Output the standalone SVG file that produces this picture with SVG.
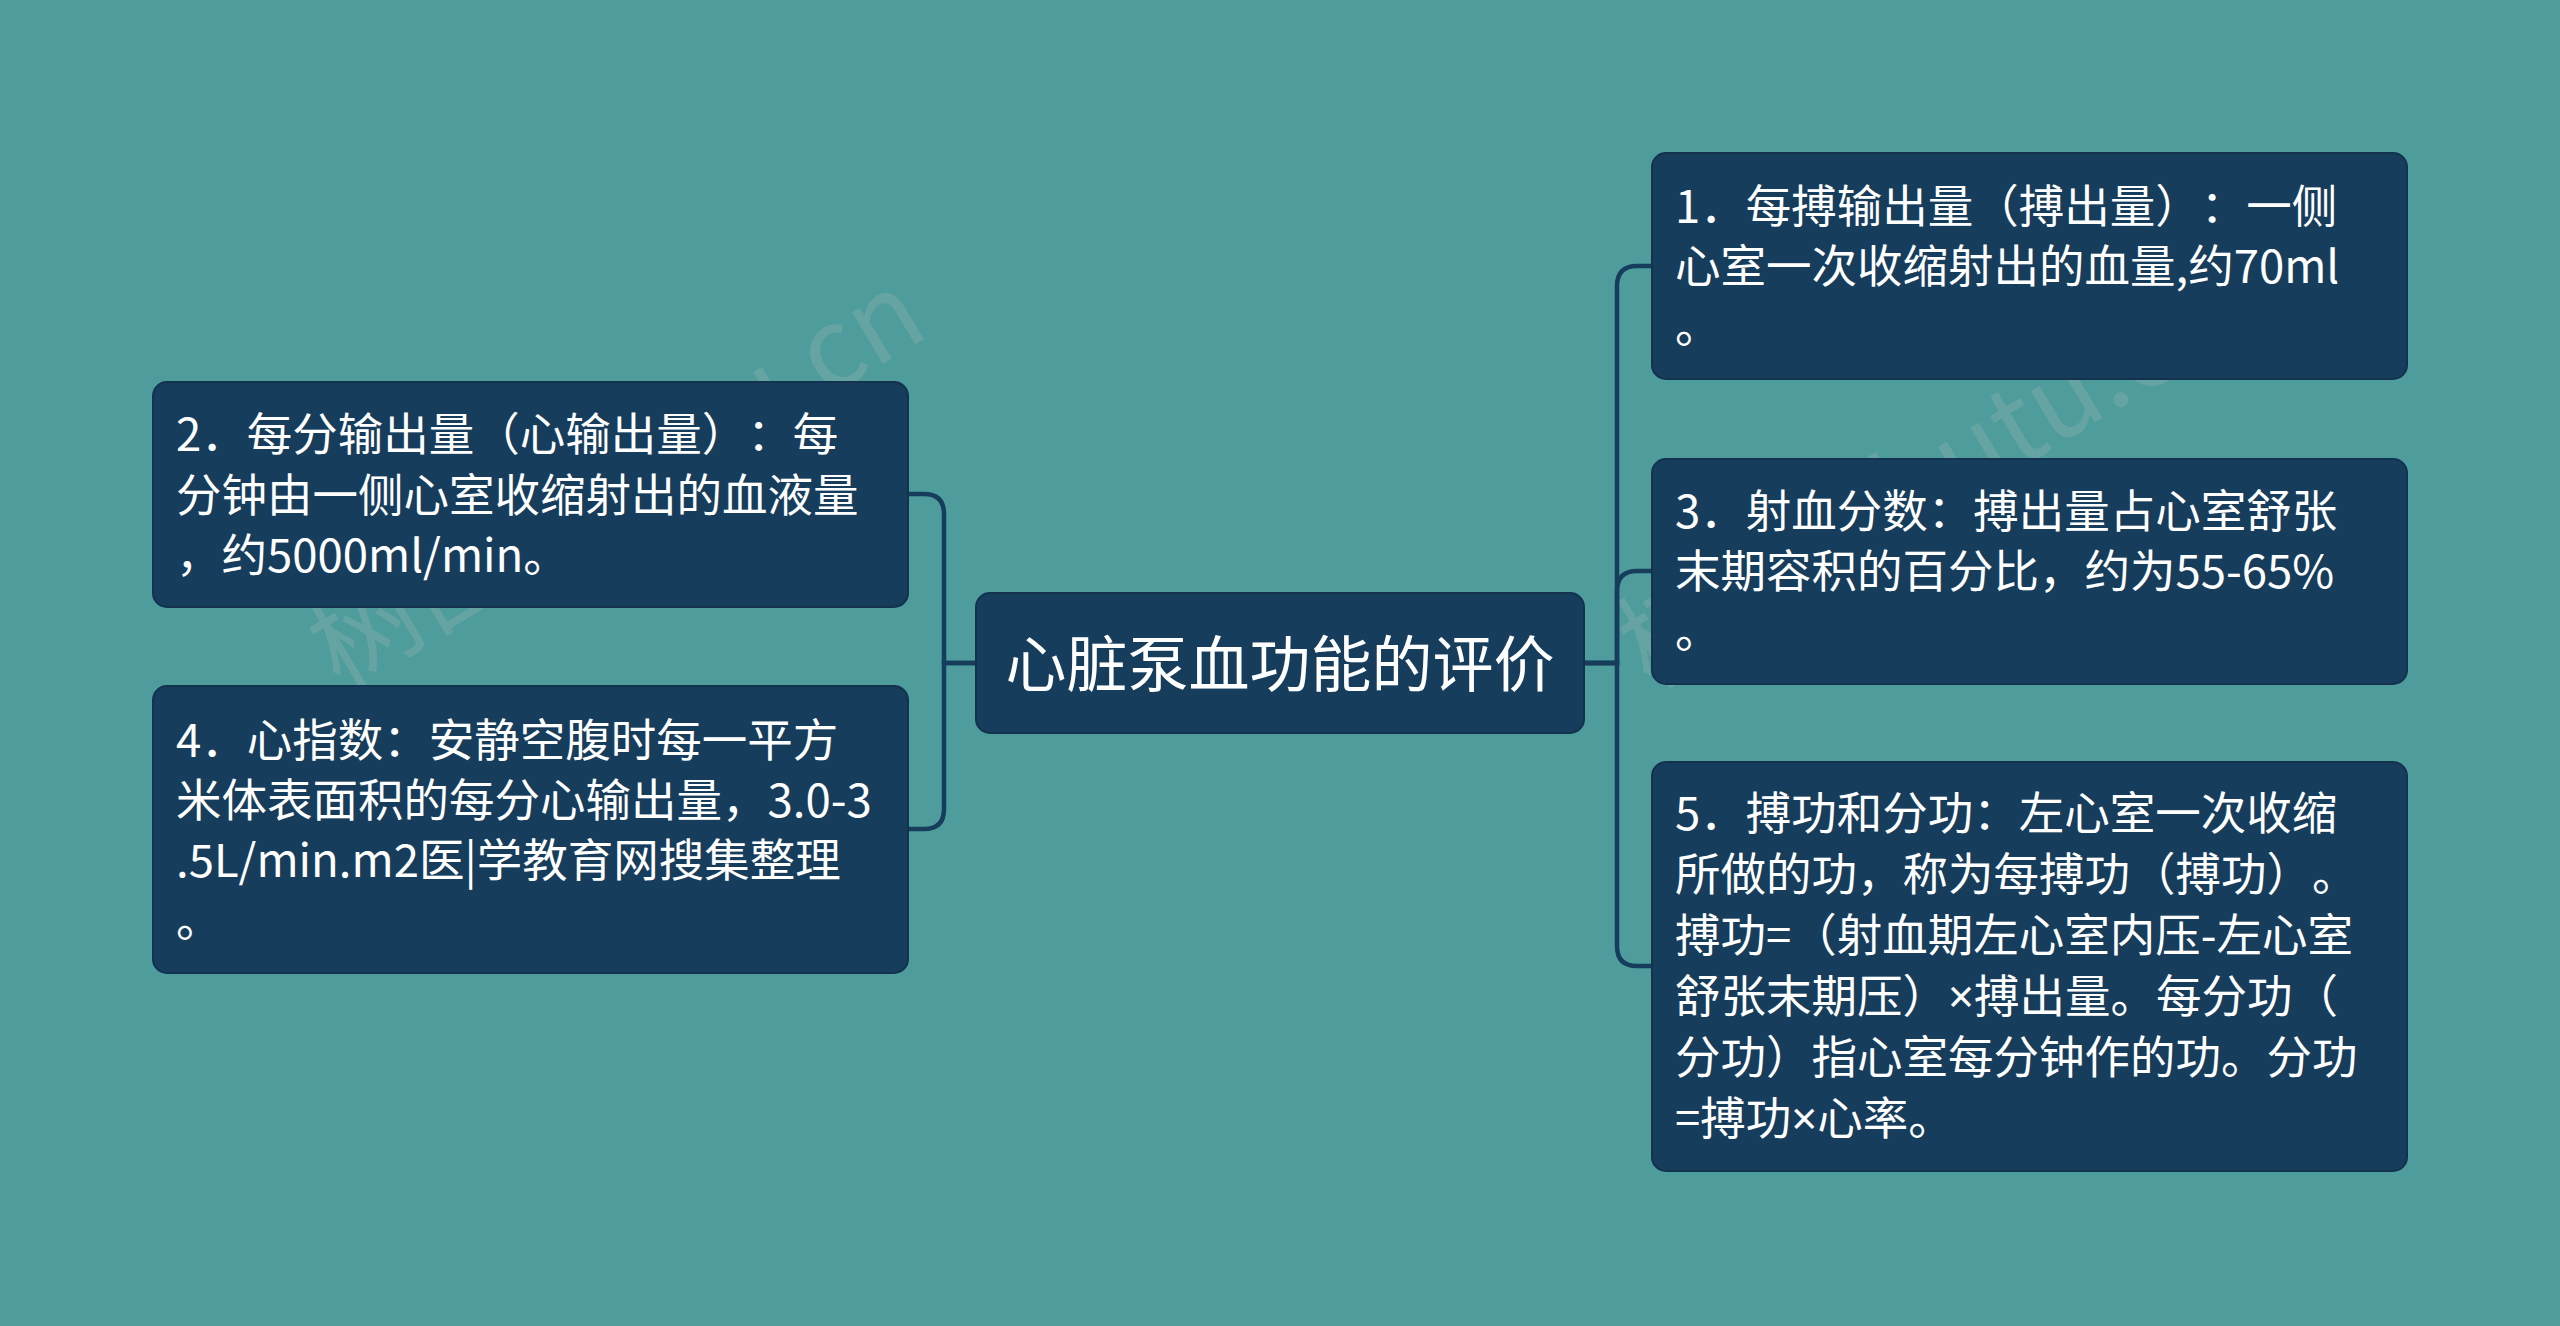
<svg xmlns="http://www.w3.org/2000/svg" width="2560" height="1326" viewBox="0 0 2560 1326">
<style>
.bg{fill:#4e9c9c}
.box{fill:#173d5d;stroke:#12324e;stroke-width:2}
.t{font-family:"Noto Sans CJK SC","Noto Sans",sans-serif;fill:#ffffff;font-size:45.5px;text-spacing-trim:space-all}
.main{font-size:61px}
.x{font-family:"Noto Sans",sans-serif}
.wm{font-family:"Noto Sans CJK SC","Noto Sans",sans-serif;font-size:110px;fill:#c8c8c8;opacity:0.2}
.conn{fill:none;stroke:#173d5d;stroke-width:4.5}
</style>
<rect class="bg" x="0" y="0" width="2560" height="1326"/>
<g id="watermarks">
<text class="wm" x="340" y="690" transform="rotate(-31 340 690)">树图 shutu.cn</text>
<text class="wm" x="1650" y="690" transform="rotate(-31 1650 690)">树图 shutu.cn</text>
</g>
<g id="connectors">
<path class="conn" d="M1584 663 H1617 V286 Q1617 266 1637 266 H1652"/>
<path class="conn" d="M1584 663 H1617 V591 Q1617 571 1637 571 H1652"/>
<path class="conn" d="M1584 663 H1617 V946 Q1617 966 1637 966 H1652"/>
<path class="conn" d="M976 663 H944 V514 Q944 494 924 494 H908"/>
<path class="conn" d="M976 663 H944 V809 Q944 829 924 829 H908"/>
</g>
<g id="node-root">
<rect class="box" x="976" y="593" width="608" height="140" rx="14"/>
<text class="t main" x="1280" y="687" text-anchor="middle">心脏泵血功能的评价</text>
</g>
<g id="node-2">
<rect class="box" x="153" y="382" width="755" height="225" rx="14"/>
<text class="t" x="176" y="451">2．每分输出量（心输出量）：每</text>
<text class="t" x="176" y="512">分钟由一侧心室收缩射出的血液量</text>
<text class="t" x="176" y="572">，约5000ml/min。</text>
</g>
<g id="node-4">
<rect class="box" x="153" y="686" width="755" height="287" rx="14"/>
<text class="t" x="176" y="757">4．心指数：安静空腹时每一平方</text>
<text class="t" x="176" y="817">米体表面积的每分心输出量，3.0-3</text>
<text class="t" x="176" y="877">.5L/min.m2医|学教育网搜集整理</text>
<text class="t" x="176" y="937">。</text>
</g>
<g id="node-1">
<rect class="box" x="1652" y="153" width="755" height="226" rx="14"/>
<text class="t" x="1675" y="223">1．每搏输出量（搏出量）：一侧</text>
<text class="t" x="1675" y="283">心室一次收缩射出的血量,约70ml</text>
<text class="t" x="1675" y="343">。</text>
</g>
<g id="node-3">
<rect class="box" x="1652" y="459" width="755" height="225" rx="14"/>
<text class="t" x="1675" y="528">3．射血分数：搏出量占心室舒张</text>
<text class="t" x="1675" y="588">末期容积的百分比，约为55-65%</text>
<text class="t" x="1675" y="648">。</text>
</g>
<g id="node-5">
<rect class="box" x="1652" y="762" width="755" height="409" rx="14"/>
<text class="t" x="1675" y="830">5．搏功和分功：左心室一次收缩</text>
<text class="t" x="1675" y="891">所做的功，称为每搏功（搏功）。</text>
<text class="t" x="1675" y="952">搏功=（射血期左心室内压-左心室</text>
<text class="t" x="1675" y="1013">舒张末期压）<tspan class="x">×</tspan>搏出量。每分功（</text>
<text class="t" x="1675" y="1074">分功）指心室每分钟作的功。分功</text>
<text class="t" x="1675" y="1135">=搏功<tspan class="x">×</tspan>心率。</text>
</g>
</svg>
